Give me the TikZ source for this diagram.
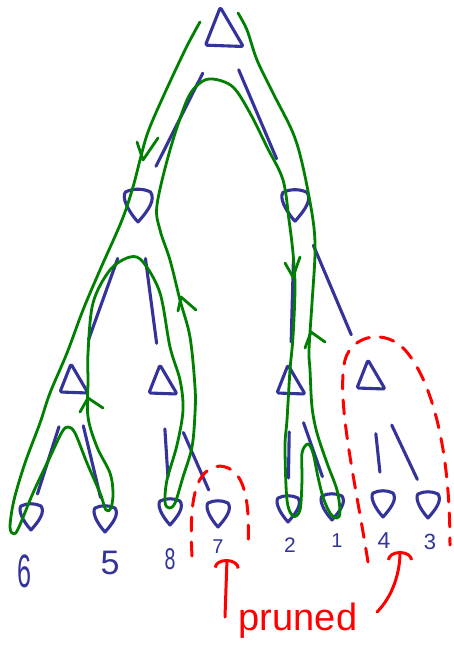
\documentclass[tikz,border=0pt]{standalone}
\usepackage{fontspec}
\setmainfont{Liberation Sans}
\usetikzlibrary{arrows.meta,calc}
\definecolor{penblue}{RGB}{51,51,153}
\definecolor{pengreen}{RGB}{0,128,0}
\definecolor{penred}{RGB}{255,0,0}
\begin{document}
\begin{tikzpicture}[x=1pt,y=-1pt,line cap=round,line join=round,
  shapeline/.style={draw=penblue,line width=3.1pt},
  branch/.style={draw=penblue,line width=3.1pt},
  contour/.style={draw=pengreen,line width=2.8pt},
  prune/.style={draw=penred,line width=3pt},
  prunedash/.style={prune,dash pattern=on 14pt off 11pt},
  lbl/.style={text=penblue,inner sep=0pt},
  maxtri/.pic={\draw[shapeline,rounded corners=1.5pt] (-2,-19) -- (-13,9) -- (15,10) -- cycle;},
  mintri/.pic={\draw[shapeline] (0,16) .. controls (-9,6) and (-13,-4) .. (-10,-8)
      .. controls (-4,-11) and (4,-11) .. (10,-8) .. controls (14,-2) and (9,6) .. cycle;},
  redtip/.style={-{Arc Barb[length=9pt,width=26pt]}}
]
\path[fill=white] (0,0) rectangle (453,661);
\useasboundingbox (0,0) rectangle (453,661);

% node positions
\coordinate (R)  at (223,33);
\coordinate (m1) at (138,202);
\coordinate (m2) at (295,202);
\coordinate (a1) at (73,383);
\coordinate (a2) at (162,384);
\coordinate (a3) at (290,384);
\coordinate (a4) at (370,379);
\coordinate (L6) at (31,514);
\coordinate (L5) at (105,516);
\coordinate (L8) at (170,509);
\coordinate (L7) at (218,511);
\coordinate (L2) at (288,506);
\coordinate (L1) at (332,504);
\coordinate (L4) at (383,501);
\coordinate (L3) at (428,502);

% triangles
\pic[scale=1.35] at (R) {maxtri};
\pic[scale=1.25] at (m1) {mintri};
\pic[scale=1.2] at (m2) {mintri};
\pic at (a1) {maxtri};
\pic at (a2) {maxtri};
\pic at (a3) {maxtri};
\pic at (a4) {maxtri};
\pic at (L6) {mintri};
\pic at (L5) {mintri};
\pic at (L8) {mintri};
\pic at (L7) {mintri};
\pic at (L2) {mintri};
\pic at (L1) {mintri};
\pic at (L4) {mintri};
\pic at (L3) {mintri};

% blue edges
\draw[branch,shorten <=45pt,shorten >=40pt] (R) -- (m1);
\draw[branch,shorten <=40pt,shorten >=47pt] (R) -- (m2);
\draw[branch,shorten <=60pt,shorten >=46pt] (m1) -- (a1);
\draw[branch,shorten <=57pt,shorten >=41pt] (m1) -- (a2);
\draw[branch,shorten <=57pt,shorten >=42pt] (m2) -- (a3);
\draw[branch,shorten <=47pt,shorten >=48pt] (m2) -- (a4);
\draw[branch,shorten <=46pt,shorten >=21pt] (a1) -- (L6);
\draw[branch,shorten <=44pt,shorten >=19pt] (a1) -- (L5);
\draw[branch,shorten <=45pt,shorten >=32pt] (a2) -- (L8);
\draw[branch,shorten <=53pt,shorten >=23pt] (a2) -- (L7);
\draw[branch,shorten <=48pt,shorten >=28pt] (a3) -- (L2);
\draw[branch,shorten <=41pt,shorten >=29pt] (a3) -- (L1);
\draw[branch,shorten <=55pt,shorten >=29pt] (a4) -- (L4);
\draw[branch,shorten <=51pt,shorten >=25pt] (a4) -- (L3);

% leaf labels
\node[lbl,font=\fontsize{36}{36}\selectfont] (l6) at (25,571) {\scalebox{0.7}[1.3]{6}};
\node[lbl,font=\fontsize{34}{34}\selectfont] (l5) at (110,563) {5};
\node[lbl,font=\fontsize{30}{30}\selectfont] (l8) at (170,559) {\scalebox{0.65}[1]{8}};
\node[lbl,font=\fontsize{20}{20}\selectfont] (l7) at (218,547) {7};
\node[lbl,font=\fontsize{21}{21}\selectfont] (l2) at (290,545) {2};
\node[lbl,font=\fontsize{20}{20}\selectfont] (l1) at (337,541) {1};
\node[lbl,font=\fontsize{23}{23}\selectfont] (l4) at (384,541) {4};
\node[lbl,font=\fontsize{22}{22}\selectfont] (l3) at (430,542) {3};

% green traversal contour
\draw[contour] plot[smooth,tension=0.55] coordinates {
 (200,22) (186,48) (163,97) (148,132) (140,160) (133,187) (122,220) (100,270)
 (83,310) (67,353) (50,393) (40,423) (25,463) (14,500) (10,527) (14,534) (19,527)
 (33,493) (50,457) (62,432) (68,427) (75,433) (87,463) (100,493) (106,510)
 (111,508) (113,493) (110,473) (97,447) (88,417) (88,380) (88,353) (93,303)
 (110,270) (130,257) (143,262) (160,293) (170,347) (180,380) (183,410) (177,445)
 (167,480) (165,502) (169,508) (175,503) (183,477) (192,447) (195,413) (195,387)
 (190,337) (180,300) (170,260) (160,230) (157,205) (170,150) (187,100) (200,83)
 (213,79) (233,87) (250,113) (267,147) (283,180) (289,220) (293,253) (295,287)
 (293,337) (290,370) (287,420) (285,447) (287,500) (293,516) (300,510) (302,480)
 (302,453) (308,444) (313,453) (318,477) (323,497) (330,513) (337,518) (340,512)
 (337,490) (327,463) (317,433) (312,407) (310,370) (309,350) (312,303) (315,253)
 (313,220) (303,167) (293,133) (273,93) (257,60) (247,30) (238,13)};
% green arrowheads
\draw[contour] (137,142) -- (143,160) -- (158,138);
\draw[contour] (80,412) -- (88,398) -- (103,408);
\draw[contour] (178,311) -- (181,297) -- (196,310);
\draw[contour] (285,263) -- (293,277) -- (300,257);
\draw[contour] (305,348) -- (311,332) -- (325,342);

% pruned marks
\draw[prunedash] (192,556) .. controls (189,500) and (195,468) .. (220,466)
  .. controls (245,468) and (250,500) .. (248,548);
\draw[prunedash] (368,562) .. controls (355,480) and (336,400) .. (345,360)
  .. controls (352,335) and (385,328) .. (405,350)
  .. controls (425,372) and (450,430) .. (450,545);
\node[text=penred,font=\fontsize{38}{38}\selectfont,anchor=base,inner sep=0pt]
  (pr) at (298,630) {pruned};
\coordinate (pa) at (225,617);
\coordinate (pb) at (377,612);
\draw[prune,redtip] (pa) -- ($(l7.center)+(9,12)$);
\draw[prune,redtip] (pb) .. controls (393,596) and (400,572) .. ($(l4.center)+(16,10)$);
\end{tikzpicture}
\end{document}
